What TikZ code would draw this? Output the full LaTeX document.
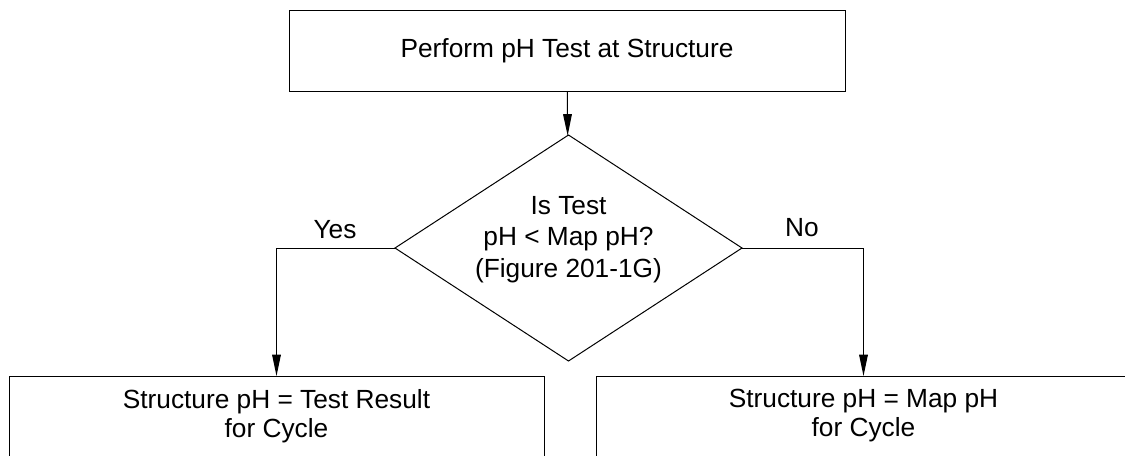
\documentclass[tikz,border=0pt]{standalone}
\usepackage{fontspec}
\setmainfont{Liberation Sans}
\usetikzlibrary{shapes.geometric,arrows.meta}

\tikzset{every picture/.style={line width=0.75pt}}
\tikzset{
	procbox/.style={draw, rectangle, inner sep=0pt, outer sep=0pt},
	decbox/.style={draw, diamond, inner sep=0pt, outer sep=0pt},
	flowtxt/.style={font=\fontsize{19.7}{21.75}\selectfont, align=center, inner sep=0pt},
	flowarrow/.style={-{Triangle[length=16pt,width=6.5pt]}},
}

\begin{document}
\begin{tikzpicture}[x=0.75pt,y=0.75pt,yscale=-1]
	\useasboundingbox (0,0) rectangle (1125,455);
	\clip (0,0) rectangle (1125,455);

	%Shape: Rectangle [perform]
	\node [procbox, flowtxt, minimum width=417pt, minimum height=60.75pt] (perform) at (567,50.5) {Perform pH Test at Structure};
	%Shape: Diamond [ischeck]
	\node [decbox, minimum width=260.25pt, minimum height=169.5pt] (ischeck) at (568.5,248) {};
	%Shape: Rectangle [testres]
	\node [procbox, anchor=north, minimum width=401.25pt, minimum height=75pt] (testres) at (276.5,376) {};
	%Shape: Rectangle [mapres]
	\node [procbox, anchor=north, minimum width=401.25pt, minimum height=75pt] (mapres) at (863.5,376) {};

	%Straight Lines
	\draw [flowarrow] (perform) -- (ischeck);
	\draw [flowarrow] (ischeck.west) -| (testres.north);
	\draw [flowarrow] (ischeck.east) -| (mapres.north);

	% Text Node
	\node [flowtxt, font=\fontsize{19.7}{23.6}\selectfont] (ischecktxt) at (568.5,239.5) {Is Test\\pH < Map pH?\\(Figure 201-1G)};
	% Text Node
	\node [flowtxt] (testrestxt) at (276.5,416) {Structure pH = Test Result\\for Cycle};
	% Text Node
	\node [flowtxt] (maprestxt) at (863.5,416) {Structure pH = Map pH\\for Cycle};
	% Text Node
	\node [flowtxt] (yeslbl) at (335,230) {Yes};
	% Text Node
	\node [flowtxt] (nolbl) at (802,228) {No};

\end{tikzpicture}
\end{document}
